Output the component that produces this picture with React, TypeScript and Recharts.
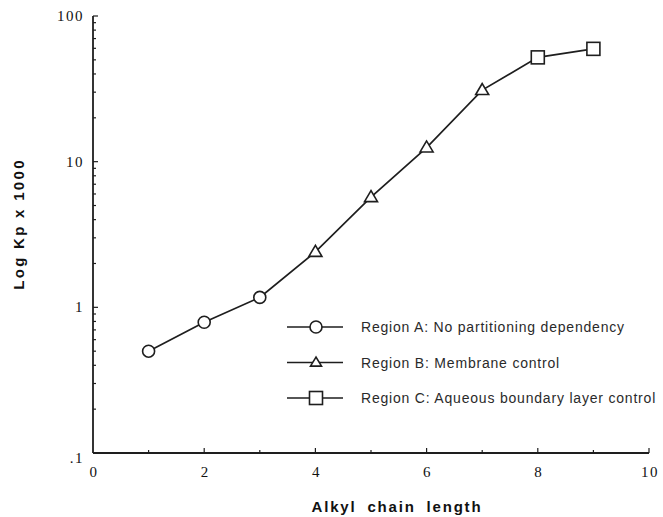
import React from 'react';
import { LineChart, Line, XAxis, YAxis, Legend, Customized } from 'recharts';

const chainLength = [1, 2, 3, 4, 5, 6, 7, 8, 9];
const kpValues = [0.5, 0.79, 1.17, 2.4, 5.7, 12.5, 31, 52, 59.5];
const regionOf = ['A', 'A', 'A', 'B', 'B', 'B', 'B', 'C', 'C'];

const xTicks = [0, 1, 2, 3, 4, 5, 6, 7, 8, 9, 10];
const xLabeled = [0, 2, 4, 6, 8, 10];
const yTicks = [
  0.1, 0.2, 0.3, 0.4, 0.5, 0.6, 0.7, 0.8, 0.9,
  1, 2, 3, 4, 5, 6, 7, 8, 9,
  10, 20, 30, 40, 50, 60, 70, 80, 90, 100,
];
const yLabelValues = [0.1, 1, 10, 100];
const yLabelTexts = ['.1', '1', '10', '100'];

const legendRegions = ['A', 'B', 'C'];
const legendLabels = [
  'Region A: No partitioning dependency',
  'Region B: Membrane control',
  'Region C: Aqueous boundary layer control',
];

const xTitle = 'Alkyl chain length';
const yTitle = 'Log Kp x 1000';

const data = chainLength.map((x, i) => ({ x, kp: kpValues[i], region: regionOf[i] }));

const INK = '#1e1e1e';

function Marker({ cx, cy, region, small }: { cx: number; cy: number; region: string; small?: boolean }) {
  if (region === 'A') {
    return <circle cx={cx} cy={cy} r={6} fill="#fff" stroke={INK} strokeWidth={1.6} />;
  }
  if (region === 'B') {
    const h = small ? 9 : 11;
    const w = small ? 11 : 13;
    return (
      <polygon
        points={`${cx},${cy - h * 0.6} ${cx - w / 2},${cy + h * 0.4} ${cx + w / 2},${cy + h * 0.4}`}
        fill="#fff"
        stroke={INK}
        strokeWidth={1.6}
      />
    );
  }
  return <rect x={cx - 6.5} y={cy - 6.5} width={13} height={13} fill="#fff" stroke={INK} strokeWidth={1.6} />;
}

const renderDot = (props: any) => {
  const { cx, cy, payload, index } = props;
  if (cx == null || cy == null) return <g key={`d${index}`} />;
  return (
    <g key={`d${index}`}>
      <Marker cx={cx} cy={cy} region={payload.region} />
    </g>
  );
};

const YTick = (props: any) => {
  const { x, y, payload } = props;
  const v = payload.value;
  const li = yLabelValues.findIndex((t) => Math.abs(t - v) < 1e-9);
  const major = li >= 0;
  return (
    <g>
      <line x1={x} x2={x + (major ? 5 : 3)} y1={y} y2={y} stroke={INK} strokeWidth={1.2} />
      {major && (
        <text
          x={x - 9}
          y={y + (v === 0.1 ? 10 : 5)}
          textAnchor="end"
          fontFamily="'Liberation Serif', serif"
          fontSize={15}
          letterSpacing={1.5}
          fill="#111"
        >
          {yLabelTexts[li]}
        </text>
      )}
    </g>
  );
};

const XTick = (props: any) => {
  const { x, y, payload } = props;
  const v = payload.value;
  const major = xLabeled.includes(v);
  return (
    <g>
      {v !== 0 && (
        <line x1={x} x2={x} y1={y} y2={y - (major ? 5 : 3)} stroke={INK} strokeWidth={1.2} />
      )}
      {major && (
        <text
          x={x + 1}
          y={y + 24}
          textAnchor="middle"
          fontFamily="'Liberation Serif', serif"
          fontSize={15}
          letterSpacing={1.5}
          fill="#111"
        >
          {String(v)}
        </text>
      )}
    </g>
  );
};

const LegendContent = () => (
  <svg width={378} height={100} style={{ overflow: 'visible' }}>
    {legendRegions.map((r, i) => {
      const cy = 11 + i * 35.5;
      return (
        <g key={r}>
          <line x1={2} x2={58} y1={cy} y2={cy} stroke={INK} strokeWidth={1.6} />
          <Marker cx={31} cy={cy} region={r} small />
          <text
            x={76}
            y={cy + 5}
            fontFamily="'Liberation Sans', Arial, sans-serif"
            fontSize={14}
            letterSpacing={0.8}
            fill="#2a2a2a"
          >
            {legendLabels[i]}
          </text>
        </g>
      );
    })}
  </svg>
);

const Titles = () => (
  <g>
    <text
      x={397}
      y={512}
      textAnchor="middle"
      fontFamily="'Liberation Sans', Arial, sans-serif"
      fontWeight="bold"
      fontSize={15}
      letterSpacing={1.8}
      wordSpacing={5}
      fill="#111"
    >
      {xTitle}
    </text>
    <text
      transform="translate(24, 224) rotate(-90)"
      textAnchor="middle"
      fontFamily="'Liberation Sans', Arial, sans-serif"
      fontWeight="bold"
      fontSize={15}
      letterSpacing={2.3}
      fill="#111"
    >
      {yTitle}
    </text>
  </g>
);

export default function App() {
  return (
    <div style={{ position: 'absolute', left: 0, top: 0, width: 663, height: 517, background: '#fff' }}>
      <LineChart
        width={663}
        height={517}
        data={data}
        margin={{ top: 16, right: 14, bottom: 63, left: 92 }}
        style={{ overflow: 'visible' }}
      >
        <XAxis
          dataKey="x"
          type="number"
          domain={[0, 10]}
          ticks={xTicks}
          interval={0}
          height={1}
          tickSize={0}
          tickMargin={0}
          tickLine={false}
          axisLine={{ stroke: INK, strokeWidth: 1.8 }}
          tick={<XTick />}
          allowDataOverflow
        />
        <YAxis
          dataKey="kp"
          type="number"
          scale="log"
          domain={[0.1, 100]}
          ticks={yTicks}
          interval={0}
          width={1}
          tickSize={0}
          tickMargin={0}
          tickLine={false}
          axisLine={{ stroke: INK, strokeWidth: 1.8 }}
          tick={<YTick />}
          allowDataOverflow
        />
        <Line
          dataKey="kp"
          type="linear"
          stroke={INK}
          strokeWidth={1.7}
          dot={renderDot}
          activeDot={false}
          isAnimationActive={false}
        />
        <Legend
          layout="horizontal"
          verticalAlign="middle"
          align="center"
          content={<LegendContent />}
          wrapperStyle={{ position: 'absolute', left: 285, top: 316, width: 378, height: 100 }}
        />
        <Customized component={<Titles />} />
      </LineChart>
    </div>
  );
}
